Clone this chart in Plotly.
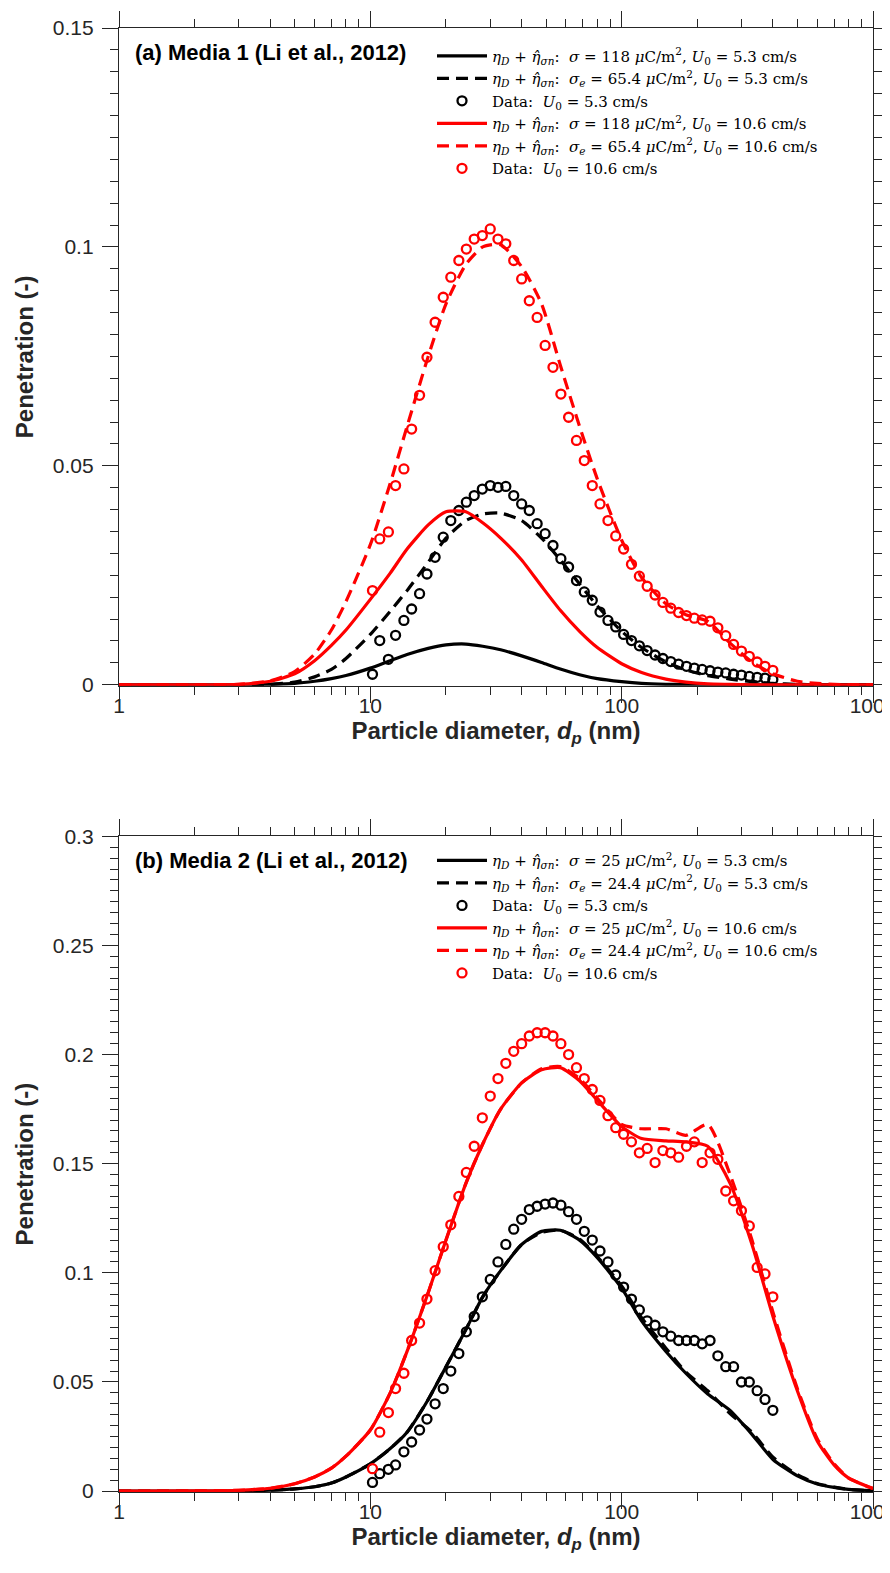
import plotly.graph_objects as go

# ---------------- data ----------------
d_model = [1, 2, 3, 4, 5, 6, 7, 8, 10, 12, 14, 17, 20, 24, 28, 33, 40, 48, 57, 68,
           80, 100, 120, 150, 180, 220, 270, 330, 400, 500, 600, 700, 800, 1000]

a_sig_u53 = [0, 0, 0, 0.0001, 0.0003, 0.0008, 0.0014, 0.0021, 0.0038, 0.0055, 0.0069, 0.0083,
             0.0091, 0.0093, 0.0088, 0.008, 0.0066, 0.0051, 0.0036, 0.0023, 0.0014, 0.0007,
             0.0003, 0.0001, 0.00005, 0, 0, 0, 0, 0, 0, 0, 0, 0]
a_sige_u53 = [0, 0, 0, 0.0001, 0.0006, 0.0018, 0.0035, 0.006, 0.0115, 0.0168, 0.0215, 0.028,
              0.0335, 0.0375, 0.039, 0.0392, 0.0375, 0.0335, 0.0285, 0.023, 0.018, 0.0122,
              0.0085, 0.0052, 0.0034, 0.0021, 0.0013, 0.0007, 0.0003, 0.0001, 0, 0, 0, 0]
a_sig_u106 = [0, 0, 0.0001, 0.0008, 0.0025, 0.0055, 0.009, 0.0125, 0.0195, 0.0255, 0.031, 0.0365,
              0.0395, 0.0395, 0.037, 0.0335, 0.0285, 0.0225, 0.017, 0.0122, 0.0085, 0.0048,
              0.0028, 0.0013, 0.0006, 0.0002, 0.0001, 0, 0, 0, 0, 0, 0, 0]
a_sige_u106 = [0, 0, 0.0001, 0.0009, 0.003, 0.007, 0.0125, 0.019, 0.032, 0.046, 0.059, 0.075,
               0.087, 0.096, 0.1, 0.1005, 0.0955, 0.087, 0.073, 0.059, 0.047, 0.033,
               0.0245, 0.0185, 0.016, 0.0145, 0.0095, 0.0052, 0.0025, 0.0008, 0.0003, 0.0001, 0, 0]

b_sig_u53 = [0, 0, 0.0001, 0.0004, 0.001, 0.002, 0.0037, 0.0065, 0.0125, 0.0195, 0.027, 0.042,
             0.057, 0.074, 0.089, 0.101, 0.113, 0.119, 0.1195, 0.115, 0.107, 0.093, 0.078,
             0.064, 0.054, 0.0445, 0.037, 0.026, 0.0145, 0.007, 0.0033, 0.0017, 0.0008, 0.0002]
b_sige_u53 = [0, 0, 0.0001, 0.0004, 0.001, 0.002, 0.0037, 0.0065, 0.0125, 0.0195, 0.027, 0.042,
              0.057, 0.074, 0.089, 0.101, 0.113, 0.1185, 0.1195, 0.1155, 0.1075, 0.094, 0.0795,
              0.0655, 0.0545, 0.046, 0.0355, 0.027, 0.0155, 0.0075, 0.0035, 0.0018, 0.0008, 0.0002]
b_sig_u106 = [0, 0.0001, 0.0004, 0.0013, 0.0034, 0.0065, 0.0105, 0.016, 0.028, 0.045, 0.064, 0.091,
              0.115, 0.141, 0.159, 0.175, 0.187, 0.193, 0.194, 0.188, 0.179, 0.167, 0.1615,
              0.1605, 0.16, 0.158, 0.141, 0.113, 0.08, 0.046, 0.023, 0.012, 0.006, 0.0012]
b_sige_u106 = [0, 0.0001, 0.0004, 0.0013, 0.0034, 0.0065, 0.0105, 0.016, 0.028, 0.045, 0.064, 0.091,
               0.115, 0.141, 0.159, 0.175, 0.187, 0.1935, 0.1945, 0.189, 0.18, 0.168, 0.166,
               0.166, 0.163, 0.168, 0.145, 0.115, 0.082, 0.047, 0.024, 0.0125, 0.006, 0.0012]

d_data = [10.2, 10.9, 11.8, 12.6, 13.6, 14.6, 15.7, 16.8, 18.1, 19.5,
          20.9, 22.5, 24.1, 25.9, 27.9, 30.0, 32.2, 34.6, 37.2, 40.0,
          42.9, 46.1, 49.6, 53.3, 57.3, 61.5, 66.1, 71.0, 76.4, 82.0,
          88.2, 94.7, 101.8, 109.4, 117.6, 126.3, 135.8, 145.9, 156.8, 168.5,
          181.1, 194.6, 209.1, 224.7, 241.4, 259.5, 278.8, 299.6, 322.0, 346.0,
          371.8, 399.5]

a_data_u53 = [.0024, .0101, .0058, .0113, .0147, .0173, .0208, .0253, .0291, .0337,
              .0375, .0398, .0417, .0432, .0447, .0455, .0451, .0453, .0432, .0413,
              .0398, .0368, .0345, .0318, .0288, .0269, .0238, .0212, .0193, .0166,
              .0147, .0132, .0115, .0101, .0089, .0078, .0068, .006, .0053, .0047,
              .0042, .0038, .0035, .0032, .0029, .0027, .0024, .0022, .0019, .0017,
              .0015, .0012]
a_data_u106 = [.0215, .0333, .0349, .0455, .0493, .0584, .0661, .0748, .0828, .0885,
               .0931, .0969, .0995, .1018, .1026, .1041, .1018, .1007, .0969, .0927,
               .0877, .0839, .0775, .0725, .0664, .0611, .0558, .0512, .0455, .0413,
               .0375, .034, .031, .0275, .0248, .0225, .0205, .0188, .0175, .0165,
               .0158, .0152, .0148, .0145, .013, .0112, .0092, .0077, .0065, .0052,
               .0042, .0033]
b_data_u53 = [.004, .008, .010, .012, .018, .0225, .028, .033, .040, .047,
              .055, .063, .073, .080, .089, .097, .105, .113, .120, .1245,
              .129, .1305, .1315, .132, .131, .128, .1245, .119, .115, .110,
              .105, .099, .0935, .088, .083, .078, .076, .073, .071, .069,
              .069, .069, .0675, .069, .062, .057, .057, .050, .050, .046,
              .042, .037]
b_data_u106 = [.0103, .027, .036, .047, .054, .069, .077, .088, .101, .112,
               .122, .135, .146, .158, .171, .181, .189, .196, .2015, .205,
               .2085, .21, .21, .2085, .205, .200, .194, .189, .184, .179,
               .172, .1665, .1635, .16, .155, .157, .1505, .156, .155, .153,
               .158, .160, .1505, .155, .152, .1375, .133, .1285, .1215, .1025,
               .0995, .089]

x_tickvals = [1, 10, 100, 1000]
x_ticktext = ["1", "10", "100", "1000"]
x_minor = [2, 3, 4, 5, 6, 7, 8, 9, 20, 30, 40, 50, 60, 70, 80, 90,
           200, 300, 400, 500, 600, 700, 800, 900]

x_title = "<b>Particle diameter, <i>d</i><sub><i>p</i></sub> (nm)</b>"
y_title = "<b>Penetration (-)</b>"

eta = "<i>η</i><sub><i>D</i></sub> + <i>η̂</i><sub><i>σn</i></sub>:  "
labels_a = [eta + "<i>σ</i> = 118 <i>μ</i>C/m<sup>2</sup>, <i>U</i><sub>0</sub> = 5.3 cm/s",
            eta + "<i>σ</i><sub><i>e</i></sub> = 65.4 <i>μ</i>C/m<sup>2</sup>, <i>U</i><sub>0</sub> = 5.3 cm/s",
            "Data:  <i>U</i><sub>0</sub> = 5.3 cm/s",
            eta + "<i>σ</i> = 118 <i>μ</i>C/m<sup>2</sup>, <i>U</i><sub>0</sub> = 10.6 cm/s",
            eta + "<i>σ</i><sub><i>e</i></sub> = 65.4 <i>μ</i>C/m<sup>2</sup>, <i>U</i><sub>0</sub> = 10.6 cm/s",
            "Data:  <i>U</i><sub>0</sub> = 10.6 cm/s"]
labels_b = [eta + "<i>σ</i> = 25 <i>μ</i>C/m<sup>2</sup>, <i>U</i><sub>0</sub> = 5.3 cm/s",
            eta + "<i>σ</i><sub><i>e</i></sub> = 24.4 <i>μ</i>C/m<sup>2</sup>, <i>U</i><sub>0</sub> = 5.3 cm/s",
            "Data:  <i>U</i><sub>0</sub> = 5.3 cm/s",
            eta + "<i>σ</i> = 25 <i>μ</i>C/m<sup>2</sup>, <i>U</i><sub>0</sub> = 10.6 cm/s",
            eta + "<i>σ</i><sub><i>e</i></sub> = 24.4 <i>μ</i>C/m<sup>2</sup>, <i>U</i><sub>0</sub> = 10.6 cm/s",
            "Data:  <i>U</i><sub>0</sub> = 10.6 cm/s"]

BLACK = "#000000"
RED = "#ff0000"
AX = "#262626"
LW = 3.2
DASH = "12px,7px"

fig = go.Figure()


def add_panel(xa, ya, leg, labels, s53, se53, dat53, s106, se106, dat106):
    specs = [(s53, BLACK, "solid"), (se53, BLACK, DASH), (dat53, BLACK, None),
             (s106, RED, "solid"), (se106, RED, DASH), (dat106, RED, None)]
    for lab, (vals, col, dash) in zip(labels, specs):
        if dash is None:
            fig.add_trace(go.Scatter(x=d_data, y=vals, mode="markers", name=lab,
                                     xaxis=xa, yaxis=ya, legend=leg, cliponaxis=False,
                                     marker=dict(symbol="circle-open", size=9,
                                                 color=col, line=dict(width=2.3, color=col))))
        else:
            fig.add_trace(go.Scatter(x=d_model, y=vals, mode="lines", name=lab,
                                     xaxis=xa, yaxis=ya, legend=leg,
                                     line=dict(color=col, width=LW, dash=dash,
                                               shape="spline", smoothing=0.6)))


add_panel("x", "y", "legend", labels_a, a_sig_u53, a_sige_u53, a_data_u53,
          a_sig_u106, a_sige_u106, a_data_u106)
add_panel("x2", "y2", "legend2", labels_b, b_sig_u53, b_sige_u53, b_data_u53,
          b_sig_u106, b_sige_u106, b_data_u106)

tickfont = dict(family="Liberation Sans, Arial", size=21, color=AX)
titlefont = dict(family="Liberation Sans, Arial", size=24, color=AX)


def xaxis_cfg(anchor):
    return dict(type="log", range=[0, 3], domain=[0, 1], anchor=anchor,
                tickvals=x_tickvals, ticktext=x_ticktext,
                ticks="outside", ticklen=16, tickwidth=1.3, tickcolor=AX,
                showline=True, linecolor=AX, linewidth=1.3, mirror="allticks",
                showgrid=False, zeroline=False, layer="below traces",
                tickfont=tickfont, ticklabelstandoff=-15, automargin=False,
                minor=dict(tickvals=x_minor, ticks="outside", ticklen=8, tickwidth=1.3,
                           tickcolor=AX, showgrid=False),
                title=dict(text=x_title, font=titlefont, standoff=0))


def yaxis_cfg(anchor, dom, top, lo):
    return dict(range=[lo, top], domain=dom, anchor=anchor, dtick=0.05, tick0=0,
                ticks="outside", ticklen=16, tickwidth=1.3, tickcolor=AX,
                showline=True, linecolor=AX, linewidth=1.3, mirror="allticks",
                showgrid=False, zeroline=False, layer="below traces",
                tickfont=tickfont, ticklabelstandoff=4, automargin=False,
                minor=dict(dtick=0.005, tick0=0, ticks="outside", ticklen=8, tickwidth=1.3,
                           tickcolor=AX, showgrid=False),
                title=dict(text=y_title, font=titlefont, standoff=12))


legfont = dict(family="DejaVu Serif, Liberation Serif, serif", size=15, color="black")
panelfont = dict(family="Liberation Sans, Arial", size=22, color="black")

fig.update_layout(
    width=890, height=1573,
    margin=dict(l=111, r=25, t=20, b=89, autoexpand=False),
    paper_bgcolor="white", plot_bgcolor="white",
    xaxis=xaxis_cfg("y"),
    yaxis=yaxis_cfg("x", [0.5508, 1.0], 0.15, -0.0002),
    xaxis2=xaxis_cfg("y2"),
    yaxis2=yaxis_cfg("x2", [0.0, 0.4479], 0.3, -0.0004),
    legend=dict(x=(424 - 111) / 754, y=0.9921, xanchor="left", yanchor="top",
                bgcolor="rgba(0,0,0,0)", font=legfont, tracegroupgap=0, itemwidth=50),
    legend2=dict(x=(424 - 111) / 754, y=0.4425, xanchor="left", yanchor="top",
                 bgcolor="rgba(0,0,0,0)", font=legfont, tracegroupgap=0, itemwidth=50),
    showlegend=True,
    annotations=[
        dict(text="<b>(a) Media 1 (Li et al., 2012)</b>", xref="x domain", yref="y domain",
             x=0.0186, y=0.9627, xanchor="left", yanchor="middle", showarrow=False,
             font=panelfont),
        dict(text="<b>(b) Media 2 (Li et al., 2012)</b>", xref="x2 domain", yref="y2 domain",
             x=0.0186, y=0.9627, xanchor="left", yanchor="middle", showarrow=False,
             font=panelfont),
    ],
)

fig.write_html("out.html")
